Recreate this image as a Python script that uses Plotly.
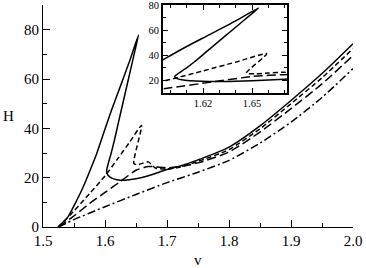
import plotly.graph_objects as go

# Solid curve (v, H)
solid_v = [1.524, 1.54, 1.552, 1.565, 1.576, 1.587, 1.597, 1.61, 1.624, 1.64, 1.654,
           1.646, 1.638, 1.63, 1.622, 1.615, 1.6095, 1.6055, 1.6028, 1.6035, 1.607, 1.612, 1.619, 1.632,
           1.65, 1.67, 1.7, 1.72, 1.75, 1.8, 1.85, 1.9, 1.95, 2.0]
solid_H = [0, 4, 9.6, 16.3, 23, 30, 37.5, 47, 56.5, 67.5, 77.8,
           69, 60.2, 51.5, 42.7, 35, 29.5, 26, 23.2, 21.6, 20.4, 19.7, 19.2, 19,
           19.6, 20.8, 23.3, 24.6, 27.2, 32.4, 41, 51.3, 62.2, 74.3]

# Short-dash curve
sdash_v = [1.525, 1.55, 1.575, 1.6, 1.62, 1.64, 1.659,
           1.6465, 1.652, 1.66, 1.67, 1.676, 1.682, 1.7, 1.72, 1.75, 1.8, 1.85, 1.9, 1.95, 2.0]
sdash_H = [0, 6.5, 13.5, 20.7, 27.5, 34.5, 41.2,
           25.8, 25.2, 25.8, 26.4, 25.0, 23.8, 23.5, 24.2, 26.6, 31.4, 39.8, 50, 60.5, 72.3]

# Long-dash curve
ldash_v = [1.525, 1.55, 1.575, 1.6, 1.625, 1.65, 1.67, 1.7, 1.72, 1.75, 1.8, 1.85, 1.9, 1.95, 2.0]
ldash_H = [0, 4.5, 9.5, 14, 18.5, 23, 24.5, 24.0, 24.5, 26.0, 30.4, 38.5, 48, 58, 69.5]

# Dash-dot curve
ddot_v = [1.525, 1.55, 1.6, 1.65, 1.7, 1.75, 1.8, 1.85, 1.9, 1.95, 2.0]
ddot_H = [0, 3, 8.2, 13.2, 18, 22.2, 27, 34, 42.5, 52.5, 64.2]

main_xticks = [1.5, 1.6, 1.7, 1.8, 1.9, 2.0]
main_yticks = [0, 20, 40, 60, 80]
inset_xticks = [1.62, 1.65]
inset_yticks = [20, 40, 60, 80]
x_title = "v"
y_title = "H"

FONT = "Liberation Serif"
styles = [
    (solid_v, solid_H, "solid"),
    (sdash_v, sdash_H, "5px,3px"),
    (ldash_v, ldash_H, "9px,4px"),
    (ddot_v, ddot_H, "8px,3px,2px,3px"),
]

fig = go.Figure()
for v, H, d in styles:
    fig.add_trace(go.Scatter(x=v, y=H, mode="lines",
                             line=dict(color="black", width=1.5, dash=d,
                                       shape="spline", smoothing=0.6),
                             showlegend=False, hoverinfo="skip"))
for v, H, d in styles[:3]:
    fig.add_trace(go.Scatter(x=v, y=H, mode="lines", xaxis="x2", yaxis="y2",
                             line=dict(color="black", width=1.5, dash=d,
                                       shape="spline", smoothing=0.6),
                             showlegend=False, hoverinfo="skip"))

fig.update_layout(
    width=366, height=268,
    margin=dict(l=43, r=13, t=5, b=41),
    paper_bgcolor="white", plot_bgcolor="white",
    font=dict(family=FONT, color="black", size=15),
    xaxis=dict(range=[1.5, 2.0], tickvals=main_xticks, automargin=False,
               ticktext=[f"{t:.1f}" for t in main_xticks],
               ticks="inside", ticklen=7, tickwidth=1, tickcolor="black",
               minor=dict(dtick=0.05, tick0=1.5, ticks="inside", ticklen=4, tickcolor="black"),
               showline=True, linecolor="black", linewidth=1, showgrid=False, zeroline=False,
               tickfont=dict(size=15), ticklabeloverflow="allow"),
    yaxis=dict(range=[0, 90], tickvals=main_yticks, automargin=False,
               ticks="inside", ticklen=7, tickwidth=1, tickcolor="black",
               minor=dict(dtick=10, tick0=0, ticks="inside", ticklen=4, tickcolor="black"),
               showline=True, linecolor="black", linewidth=1, showgrid=False, zeroline=False,
               tickfont=dict(size=15), ticklabeloverflow="allow"),
    xaxis2=dict(domain=[0.387, 0.787], anchor="y2", range=[1.5955, 1.6714], automargin=False,
                tickvals=inset_xticks, ticktext=["1.62", "1.65"],
                ticks="inside", ticklen=5, tickwidth=1, tickcolor="black",
                minor=dict(dtick=0.01, tick0=1.6, ticks="inside", ticklen=3, tickcolor="black"),
                showline=True, mirror="allticks", linecolor="black", linewidth=1.5,
                showgrid=False, zeroline=False, tickfont=dict(size=10.5),
                ticklabeloverflow="allow"),
    yaxis2=dict(domain=[0.6036, 1.0], anchor="x2", range=[9.8, 80.2], automargin=False,
                tickvals=inset_yticks,
                ticks="inside", ticklen=5, tickwidth=1, tickcolor="black",
                minor=dict(dtick=10, tick0=0, ticks="inside", ticklen=3, tickcolor="black"),
                showline=True, mirror="allticks", linecolor="black", linewidth=1.5,
                showgrid=False, zeroline=False, tickfont=dict(size=10.5),
                ticklabeloverflow="allow"),
    annotations=[
        dict(text=x_title, xref="paper", yref="paper", x=0.5, y=-0.149,
             xanchor="center", yanchor="middle", showarrow=False, font=dict(size=15)),
        dict(text=y_title, xref="paper", yref="paper", x=-0.11, y=0.5,
             xanchor="center", yanchor="middle", showarrow=False, font=dict(size=15)),
    ],
)

fig.write_html("out.html", config={"displayModeBar": False},
               post_script="document.body.style.margin='0';document.body.style.padding='0';")
